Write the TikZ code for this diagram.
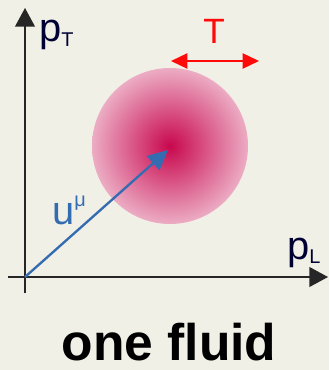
\documentclass[tikz,border=0pt]{standalone}
\usepackage{fontspec}
\setsansfont{Liberation Sans}
\usetikzlibrary{arrows.meta,positioning}
\definecolor{bgcream}{RGB}{241,240,230}
\definecolor{fluidcore}{RGB}{200,8,78}
\definecolor{fluidedge}{RGB}{236,172,196}
\definecolor{vecblue}{RGB}{52,108,178}
\definecolor{tempred}{RGB}{255,10,10}
\tikzset{
  axis/.style={-{Triangle[length=16pt,width=17pt]},line width=1.3pt,black!85},
  vector/.style={-{Triangle[length=17pt,width=16pt]},line width=2pt,vecblue},
  width arrow/.style={{Triangle[length=14pt,width=13pt]}-{Triangle[length=14pt,width=13pt]},line width=1.6pt,tempred},
  axislabel/.style={font=\sffamily\fontsize{34}{34}\selectfont,text=black!80!blue,inner sep=0pt}
}

\begin{document}
\begin{tikzpicture}[x=0.03cm,y=-0.03cm]
  \fill[bgcream] (0,0) rectangle (329,370);
  \useasboundingbox (0,0) rectangle (329,370);

  % fluid blob
  \shade[inner color=fluidcore,outer color=fluidedge] (170,146) circle (78);
  \coordinate (centre) at (168,150);

  % axes
  \coordinate (origin) at (25,277);
  \coordinate (ytip) at (25,8);
  \coordinate (xtip) at (328,277);
  \draw[axis] (25,293) -- (ytip);
  \draw[axis] (8,277) -- (xtip);
  \node[axislabel,anchor=base west] (pt) at (39,42) {p\raisebox{-0.12em}{\fontsize{17}{17}\selectfont T}};
  \node[axislabel,anchor=base west] (pl) at (287,259) {p\raisebox{-0.12em}{\fontsize{17}{17}\selectfont L}};

  % flow vector
  \draw[vector] (origin) -- (centre);
  \node[axislabel,text=vecblue,anchor=base west] (u) at (52,224) {u\raisebox{0.45em}{\fontsize{17}{17}\selectfont μ}};

  % temperature width
  \coordinate (tleft) at (171,61);
  \coordinate (tright) at (259,61);
  \draw[width arrow] (tleft) -- (tright);
  \node[font=\sffamily\fontsize{30}{30}\selectfont,text=tempred,inner sep=0pt,anchor=base] (t) at (214,44) {T};

  \node[font=\sffamily\bfseries\fontsize{44}{44}\selectfont,inner sep=0pt,anchor=base] (title) at (169,360) {one fluid};
\end{tikzpicture}
\end{document}
